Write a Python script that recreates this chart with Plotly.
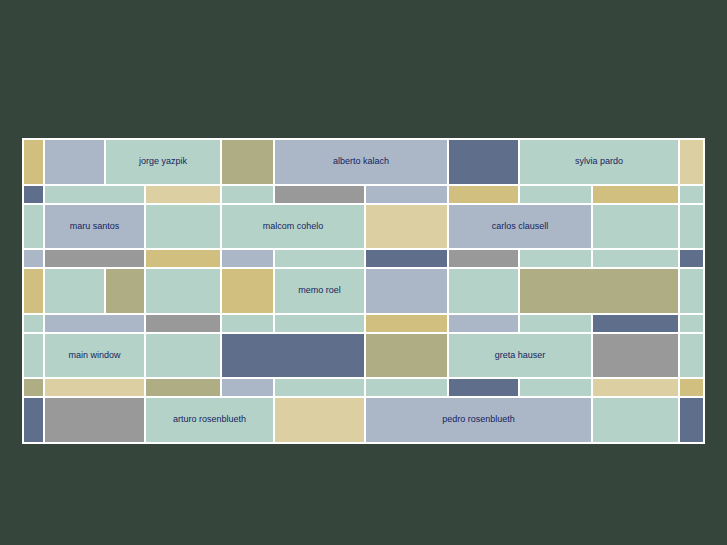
import plotly.graph_objects as go

# Grid edges (chart units)
col_edges = [23, 44, 105, 145, 221, 274, 365, 448, 519, 592, 679, 704]
row_edges = [139, 185, 204, 249, 268, 314, 333, 378, 397, 443]

palette = {
    "gold": "#D1BF80",
    "tan": "#DCCFA2",
    "olive": "#AFAD84",
    "lblue": "#ABB7C7",
    "dblue": "#5F6F8B",
    "mint": "#B5D2C8",
    "gray": "#999999",
}

# each row: list of (col_start, col_end, color, label)
rows = [
    [(0, 1, "gold", ""), (1, 2, "lblue", ""), (2, 4, "mint", "jorge yazpik"), (4, 5, "olive", ""),
     (5, 7, "lblue", "alberto kalach"), (7, 8, "dblue", ""), (8, 10, "mint", "sylvia pardo"), (10, 11, "tan", "")],
    [(0, 1, "dblue", ""), (1, 3, "mint", ""), (3, 4, "tan", ""), (4, 5, "mint", ""), (5, 6, "gray", ""),
     (6, 7, "lblue", ""), (7, 8, "gold", ""), (8, 9, "mint", ""), (9, 10, "gold", ""), (10, 11, "mint", "")],
    [(0, 1, "mint", ""), (1, 3, "lblue", "maru santos"), (3, 4, "mint", ""), (4, 6, "mint", "malcom cohelo"),
     (6, 7, "tan", ""), (7, 9, "lblue", "carlos clausell"), (9, 10, "mint", ""), (10, 11, "mint", "")],
    [(0, 1, "lblue", ""), (1, 3, "gray", ""), (3, 4, "gold", ""), (4, 5, "lblue", ""), (5, 6, "mint", ""),
     (6, 7, "dblue", ""), (7, 8, "gray", ""), (8, 9, "mint", ""), (9, 10, "mint", ""), (10, 11, "dblue", "")],
    [(0, 1, "gold", ""), (1, 2, "mint", ""), (2, 3, "olive", ""), (3, 4, "mint", ""), (4, 5, "gold", ""),
     (5, 6, "mint", "memo roel"), (6, 7, "lblue", ""), (7, 8, "mint", ""), (8, 10, "olive", ""), (10, 11, "mint", "")],
    [(0, 1, "mint", ""), (1, 3, "lblue", ""), (3, 4, "gray", ""), (4, 5, "mint", ""), (5, 6, "mint", ""),
     (6, 7, "gold", ""), (7, 8, "lblue", ""), (8, 9, "mint", ""), (9, 10, "dblue", ""), (10, 11, "mint", "")],
    [(0, 1, "mint", ""), (1, 3, "mint", "main window"), (3, 4, "mint", ""), (4, 6, "dblue", ""),
     (6, 7, "olive", ""), (7, 9, "mint", "greta hauser"), (9, 10, "gray", ""), (10, 11, "mint", "")],
    [(0, 1, "olive", ""), (1, 3, "tan", ""), (3, 4, "olive", ""), (4, 5, "lblue", ""), (5, 6, "mint", ""),
     (6, 7, "mint", ""), (7, 8, "dblue", ""), (8, 9, "mint", ""), (9, 10, "tan", ""), (10, 11, "gold", "")],
    [(0, 1, "dblue", ""), (1, 3, "gray", ""), (3, 5, "mint", "arturo rosenblueth"), (5, 6, "tan", ""),
     (6, 9, "lblue", "pedro rosenblueth"), (9, 10, "mint", ""), (10, 11, "dblue", "")],
]

BG = "#36453B"
TEXT = "#151E5E"

fig = go.Figure()
shapes = []
# white frame
shapes.append(dict(type="rect", xref="x", yref="y",
                   x0=col_edges[0] - 1, x1=col_edges[-1] + 1,
                   y0=row_edges[0] - 1, y1=row_edges[-1] + 1,
                   fillcolor="white", line=dict(width=0), layer="below"))
lx, ly, lt = [], [], []
for r, cells in enumerate(rows):
    y0, y1 = row_edges[r], row_edges[r + 1]
    for cs, ce, c, label in cells:
        x0, x1 = col_edges[cs], col_edges[ce]
        shapes.append(dict(type="rect", xref="x", yref="y", x0=x0, x1=x1, y0=y0, y1=y1,
                           fillcolor=palette[c], line=dict(color="white", width=2), layer="below"))
        if label:
            lx.append((x0 + x1) / 2)
            ly.append((y0 + y1) / 2)
            lt.append(label)

fig.add_trace(go.Scatter(x=lx, y=ly, text=lt, mode="text",
                         textfont=dict(family="Liberation Sans, Arial, sans-serif", size=9, color=TEXT),
                         hoverinfo="skip", showlegend=False))

fig.update_layout(
    width=727, height=545,
    margin=dict(l=0, r=0, t=0, b=0),
    paper_bgcolor=BG, plot_bgcolor=BG,
    shapes=shapes,
    xaxis=dict(range=[0, 727], visible=False, fixedrange=True),
    yaxis=dict(range=[545, 0], visible=False, fixedrange=True),
    showlegend=False,
)
fig.write_html("out.html", config={"displayModeBar": False},
               post_script="document.body.style.margin='0';document.body.style.background='#36453B';document.body.style.overflow='hidden';")
